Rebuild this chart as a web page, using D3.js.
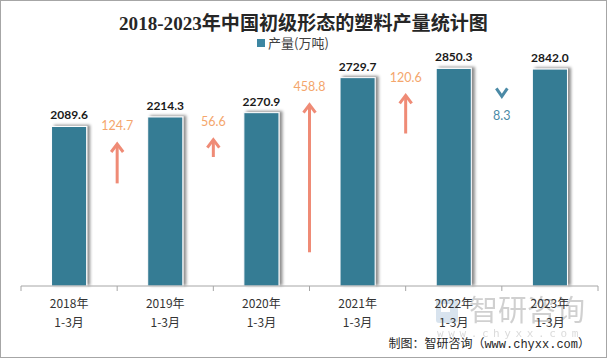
<!DOCTYPE html>
<html><head><meta charset="utf-8">
<script src="https://cdn.jsdelivr.net/npm/d3@7/dist/d3.min.js"></script>
<style>body{margin:0;background:#fff}svg{display:block}</style>
</head><body><svg id="c" width="607" height="358"></svg>
<script>
// ---- data ----
const years = ["2018年", "2019年", "2020年", "2021年", "2022年", "2023年"];
const periods = ["1-3月", "1-3月", "1-3月", "1-3月", "1-3月", "1-3月"];
const production = [2089.6, 2214.3, 2270.9, 2729.7, 2850.3, 2842.0];
const changes = [124.7, 56.6, 458.8, 120.6, -8.3];
const yTicks = [0, 3000];
const seriesName = "产量(万吨)";
const titleText = "2018-2023年中国初级形态的塑料产量统计图";
const sourceText = "制图：智研咨询（www.chyxx.com）";

// ---- chart ----
const W = 607, H = 358;
const svg = d3.select("#c");
const defs = svg.append("defs");
const f = defs.append("filter").attr("id", "sh").attr("x", "-20%").attr("y", "-10%").attr("width", "150%").attr("height", "120%");
f.append("feDropShadow").attr("dx", 3).attr("dy", -1).attr("stdDeviation", 1.8)
  .attr("flood-color", "#000").attr("flood-opacity", 0.45);

svg.append("rect").attr("x", 0.5).attr("y", 0.5).attr("width", W - 1).attr("height", H - 1)
  .attr("fill", "#fff").attr("stroke", "#a6a6a6");

const x = d3.scaleBand().domain(years).range([21, 598]).padding(0);
const y = d3.scaleLinear().domain([yTicks[0], yTicks[yTicks.length - 1]]).range([286, 57]);
const dLen = d3.scaleLinear().domain([0, 500]).range([0, 162]);
const barW = x.bandwidth() * 0.365;

// watermark
const wm = svg.append("g").attr("opacity", 0.3);
wm.append("rect").attr("x", 436).attr("y", 299).attr("width", 22).attr("height", 24).attr("rx", 3)
  .attr("fill", "#7fa6c8");
wm.append("rect").attr("x", 441).attr("y", 304).attr("width", 9).attr("height", 8).attr("fill", "#fff");
wm.append("text").attr("x", 469).attr("y", 321).attr("font-family", "Noto Sans CJK SC")
  .attr("font-size", 29).attr("fill", "#666").text("智研咨询");
wm.append("text").attr("x", 437).attr("y", 337).attr("font-family", "DejaVu Sans Mono")
  .attr("font-size", 11).attr("letter-spacing", 4.6).attr("fill", "#888").text("www.chyxx.com");

// title (fit to reference width)
const title = svg.append("text").attr("x", 303.5).attr("y", 30).attr("text-anchor", "middle")
  .attr("font-family", "'Liberation Serif','Noto Sans CJK SC'").attr("font-weight", "bold")
  .attr("font-size", 18).attr("fill", "#262626").text(titleText);
const tw = title.node().getComputedTextLength();
title.attr("font-size", Math.min(20, Math.max(16, 18 * 369 / tw)));

// legend
svg.append("rect").attr("x", 257).attr("y", 39).attr("width", 8).attr("height", 8).attr("fill", "#3d86a2");
svg.append("text").attr("x", 268).attr("y", 48).attr("font-family", "'Noto Sans CJK SC'")
  .attr("font-size", 13).attr("fill", "#404040").text(seriesName);

// bars
svg.append("g").selectAll("rect").data(production).join("rect")
  .attr("x", (d, i) => x(years[i]) + x.bandwidth() / 2 - barW / 2)
  .attr("y", d => y(d))
  .attr("width", barW)
  .attr("height", d => y(0) - y(d))
  .attr("fill", "#367b94")
  .attr("stroke", "#fff").attr("stroke-width", 1)
  .attr("filter", "url(#sh)");

// value labels
svg.append("g").selectAll("text").data(production).join("text")
  .attr("x", (d, i) => x(years[i]) + x.bandwidth() / 2)
  .attr("y", d => y(d) - 7)
  .attr("text-anchor", "middle")
  .attr("font-family", "Lato").attr("font-weight", "bold").attr("font-size", 12)
  .attr("fill", "#1a1a1a").text(d => d3.format(".1f")(d));

// axis
const axis = svg.append("g").attr("transform", `translate(0,${y(0)})`);
axis.append("line").attr("x1", 21).attr("x2", 598).attr("stroke", "#a6a6a6");
const bounds = years.map(d => x(d)).concat([598]);
axis.selectAll("line.t").data(bounds).join("line").attr("class", "t")
  .attr("x1", d => d).attr("x2", d => d).attr("y1", 0).attr("y2", 5).attr("stroke", "#a6a6a6");
const lab = axis.selectAll("g.l").data(years).join("g").attr("class", "l")
  .attr("transform", d => `translate(${x(d) + x.bandwidth() / 2},0)`);
lab.append("text").attr("y", 22).attr("text-anchor", "middle").attr("font-family", "'Noto Sans CJK SC'")
  .attr("font-size", 12).attr("fill", "#333").text(d => d);
lab.append("text").attr("y", 41).attr("text-anchor", "middle").attr("font-family", "'Noto Sans CJK SC'")
  .attr("font-size", 12).attr("fill", "#333").text((d, i) => periods[i]);

// change arrows
const ag = svg.append("g");
changes.forEach((c, i) => {
  const cx = x(years[i + 1]);
  const topV = Math.max(production[i], production[i + 1]);
  if (c >= 0) {
    const ly = y(topV) + 9;
    const aTop = ly + 17;
    const aBot = aTop + dLen(c);
    ag.append("text").attr("x", cx).attr("y", ly + 4.5).attr("text-anchor", "middle")
      .attr("font-family", "Lato").attr("font-size", 12.5).attr("fill", "#f4a66c").text(d3.format(".1f")(c));
    ag.append("line").attr("x1", cx).attr("x2", cx).attr("y1", aTop + 1).attr("y2", aBot)
      .attr("stroke", "#ef8b76").attr("stroke-width", 3);
    ag.append("path").attr("d", `M${cx - 6},${aTop + 9}L${cx},${aTop + 1}L${cx + 6},${aTop + 9}`)
      .attr("fill", "none").attr("stroke", "#ef8b76").attr("stroke-width", 3);
  } else {
    const cTop = y(topV) + 20;
    ag.append("path").attr("d", `M${cx - 5.5},${cTop}L${cx},${cTop + 8}L${cx + 5.5},${cTop}`)
      .attr("fill", "none").attr("stroke", "#4b8aa6").attr("stroke-width", 3);
    ag.append("text").attr("x", cx).attr("y", cTop + 32).attr("text-anchor", "middle")
      .attr("font-family", "Lato").attr("font-size", 12.5).attr("fill", "#4b8aa6").text(d3.format(".1f")(-c));
  }
});

// source
svg.append("text").attr("x", 590).attr("y", 348).attr("text-anchor", "end")
  .attr("font-family", "'Liberation Mono','Noto Sans CJK SC'").attr("font-size", 12).attr("fill", "#262626").text(sourceText);
</script></body></html>
